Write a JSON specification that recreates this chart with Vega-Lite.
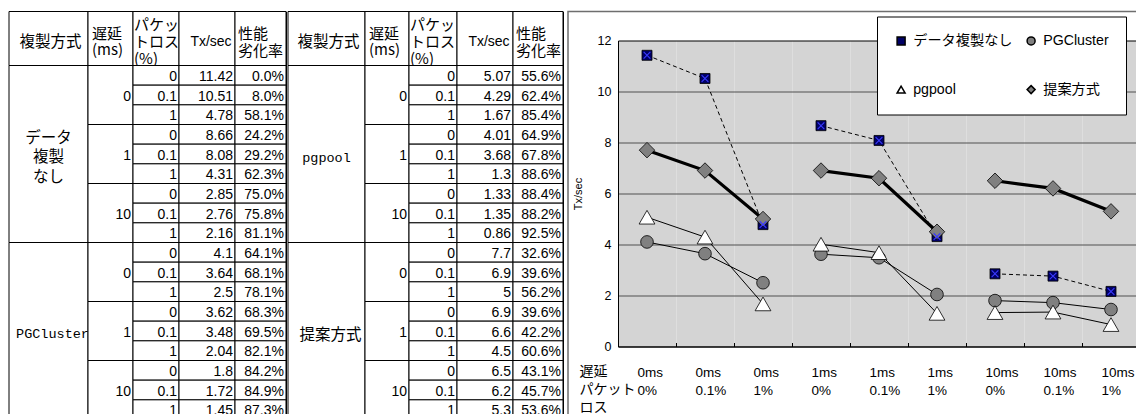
{
 "$schema": "https://vega.github.io/schema/vega-lite/v6.json",
 "padding": {"left": 8, "top": 10.5, "right": 0, "bottom": 0},
 "background": "white",
 "config": {"view": {"stroke": null}, "font": "Liberation Sans", "text": {"color": "black"}},
 "datasets": {
  "tbl": [
   {"method":"データ複製なし","delay":0,"loss":0,"cond":"0ms|0%","tx":11.42,"deg":0.0},
   {"method":"データ複製なし","delay":0,"loss":0.1,"cond":"0ms|0.1%","tx":10.51,"deg":0.080},
   {"method":"データ複製なし","delay":0,"loss":1,"cond":"0ms|1%","tx":4.78,"deg":0.581},
   {"method":"データ複製なし","delay":1,"loss":0,"cond":"1ms|0%","tx":8.66,"deg":0.242},
   {"method":"データ複製なし","delay":1,"loss":0.1,"cond":"1ms|0.1%","tx":8.08,"deg":0.292},
   {"method":"データ複製なし","delay":1,"loss":1,"cond":"1ms|1%","tx":4.31,"deg":0.623},
   {"method":"データ複製なし","delay":10,"loss":0,"cond":"10ms|0%","tx":2.85,"deg":0.750},
   {"method":"データ複製なし","delay":10,"loss":0.1,"cond":"10ms|0.1%","tx":2.76,"deg":0.758},
   {"method":"データ複製なし","delay":10,"loss":1,"cond":"10ms|1%","tx":2.16,"deg":0.811},
   {"method":"PGCluster","delay":0,"loss":0,"cond":"0ms|0%","tx":4.1,"deg":0.641},
   {"method":"PGCluster","delay":0,"loss":0.1,"cond":"0ms|0.1%","tx":3.64,"deg":0.681},
   {"method":"PGCluster","delay":0,"loss":1,"cond":"0ms|1%","tx":2.5,"deg":0.781},
   {"method":"PGCluster","delay":1,"loss":0,"cond":"1ms|0%","tx":3.62,"deg":0.683},
   {"method":"PGCluster","delay":1,"loss":0.1,"cond":"1ms|0.1%","tx":3.48,"deg":0.695},
   {"method":"PGCluster","delay":1,"loss":1,"cond":"1ms|1%","tx":2.04,"deg":0.821},
   {"method":"PGCluster","delay":10,"loss":0,"cond":"10ms|0%","tx":1.8,"deg":0.842},
   {"method":"PGCluster","delay":10,"loss":0.1,"cond":"10ms|0.1%","tx":1.72,"deg":0.849},
   {"method":"PGCluster","delay":10,"loss":1,"cond":"10ms|1%","tx":1.45,"deg":0.873},
   {"method":"pgpool","delay":0,"loss":0,"cond":"0ms|0%","tx":5.07,"deg":0.556},
   {"method":"pgpool","delay":0,"loss":0.1,"cond":"0ms|0.1%","tx":4.29,"deg":0.624},
   {"method":"pgpool","delay":0,"loss":1,"cond":"0ms|1%","tx":1.67,"deg":0.854},
   {"method":"pgpool","delay":1,"loss":0,"cond":"1ms|0%","tx":4.01,"deg":0.649},
   {"method":"pgpool","delay":1,"loss":0.1,"cond":"1ms|0.1%","tx":3.68,"deg":0.678},
   {"method":"pgpool","delay":1,"loss":1,"cond":"1ms|1%","tx":1.3,"deg":0.886},
   {"method":"pgpool","delay":10,"loss":0,"cond":"10ms|0%","tx":1.33,"deg":0.884},
   {"method":"pgpool","delay":10,"loss":0.1,"cond":"10ms|0.1%","tx":1.35,"deg":0.882},
   {"method":"pgpool","delay":10,"loss":1,"cond":"10ms|1%","tx":0.86,"deg":0.925},
   {"method":"提案方式","delay":0,"loss":0,"cond":"0ms|0%","tx":7.7,"deg":0.326},
   {"method":"提案方式","delay":0,"loss":0.1,"cond":"0ms|0.1%","tx":6.9,"deg":0.396},
   {"method":"提案方式","delay":0,"loss":1,"cond":"0ms|1%","tx":5,"deg":0.562},
   {"method":"提案方式","delay":1,"loss":0,"cond":"1ms|0%","tx":6.9,"deg":0.396},
   {"method":"提案方式","delay":1,"loss":0.1,"cond":"1ms|0.1%","tx":6.6,"deg":0.422},
   {"method":"提案方式","delay":1,"loss":1,"cond":"1ms|1%","tx":4.5,"deg":0.606},
   {"method":"提案方式","delay":10,"loss":0,"cond":"10ms|0%","tx":6.5,"deg":0.431},
   {"method":"提案方式","delay":10,"loss":0.1,"cond":"10ms|0.1%","tx":6.2,"deg":0.457},
   {"method":"提案方式","delay":10,"loss":1,"cond":"10ms|1%","tx":5.3,"deg":0.536}
  ],
  "methods": [
   {"method":"データ複製なし","label":["データ","複製","なし"]},
   {"method":"PGCluster","label":"PGCluster"},
   {"method":"pgpool","label":"pgpool"},
   {"method":"提案方式","label":"提案方式"}
  ]
 },
 "hconcat": [
  {"width": 79, "height": 408, "view": {"stroke": "black"}, "resolve": {"scale": {"y": "independent"}},
   "layer": [
    {"data": {"values": [{"part": "h", "h": "複製方式"}]},
     "encoding": {"y": {"field": "part", "type": "nominal", "scale": {"type": "band", "range": [0, 54], "paddingInner": 0, "paddingOuter": 0}, "axis": null}},
     "layer": [
      {"mark": {"type": "rect", "fill": "white", "stroke": "black", "strokeWidth": 1}},
      {"mark": {"type": "text", "font": "Noto Sans CJK JP", "fontSize": 15.5, "dx": 2, "dy": 3}, "encoding": {"text": {"field": "h", "type": "nominal"}}}
     ]},
    {"data": {"name": "methods"}, "transform": [{"filter": {"field": "method", "oneOf": ["データ複製なし","PGCluster"]}}],
     "encoding": {"y": {"field": "method", "type": "nominal", "scale": {"type": "band", "domain": ["データ複製なし","PGCluster"], "range": [54, 408], "paddingInner": 0, "paddingOuter": 0}, "axis": null}},
     "layer": [
      {"mark": {"type": "rect", "fill": "white", "stroke": "black", "strokeWidth": 1}},
      {"transform": [{"filter": {"field": "method", "equal": "データ複製なし"}}], "mark": {"type": "text", "font": "Noto Sans CJK JP", "fontSize": 15.5, "lineHeight": 19.5, "dy": -16.5}, "encoding": {"text": {"field": "label", "type": "nominal"}}},
      {"transform": [{"filter": {"field": "method", "equal": "PGCluster"}}], "mark": {"type": "text", "font": "Liberation Mono", "fontSize": 13.5, "dx": 4, "dy": 3}, "encoding": {"text": {"field": "label", "type": "nominal"}}}
     ]}
   ]},
  {"width": 45, "height": 408, "view": {"stroke": "black"}, "resolve": {"scale": {"y": "independent"}},
   "layer": [
    {"data": {"values": [{"part": "h", "h": ["遅延","(ms)"]}]},
     "encoding": {"y": {"field": "part", "type": "nominal", "scale": {"type": "band", "range": [0, 54], "paddingInner": 0, "paddingOuter": 0}, "axis": null}},
     "layer": [
      {"mark": {"type": "rect", "fill": "white", "stroke": "black", "strokeWidth": 1}},
      {"mark": {"type": "text", "font": "Noto Sans CJK JP", "fontSize": 15, "lineHeight": 16, "align": "left", "dx": -18.5, "dy": -5}, "encoding": {"text": {"field": "h", "type": "nominal"}}}
     ]},
    {"data": {"name": "tbl"}, "transform": [{"filter": {"field": "method", "equal": "データ複製なし"}}, {"aggregate": [{"op": "count", "as": "n"}], "groupby": ["delay"]}],
     "encoding": {"y": {"field": "delay", "type": "ordinal", "scale": {"type": "band", "domain": [0,1,10], "range": [54, 231], "paddingInner": 0, "paddingOuter": 0}, "axis": null}},
     "layer": [
      {"mark": {"type": "rect", "fill": "white", "stroke": "black", "strokeWidth": 1}},
      {"mark": {"type": "text", "align": "right", "dx": -2, "dy": 1.5, "fontSize": 14}, "encoding": {"x": {"value": "width"}, "text": {"field": "delay", "type": "nominal"}}}
     ]},
    {"data": {"name": "tbl"}, "transform": [{"filter": {"field": "method", "equal": "PGCluster"}}, {"aggregate": [{"op": "count", "as": "n"}], "groupby": ["delay"]}],
     "encoding": {"y": {"field": "delay", "type": "ordinal", "scale": {"type": "band", "domain": [0,1,10], "range": [231, 408], "paddingInner": 0, "paddingOuter": 0}, "axis": null}},
     "layer": [
      {"mark": {"type": "rect", "fill": "white", "stroke": "black", "strokeWidth": 1}},
      {"mark": {"type": "text", "align": "right", "dx": -2, "dy": 1.5, "fontSize": 14}, "encoding": {"x": {"value": "width"}, "text": {"field": "delay", "type": "nominal"}}}
     ]}
   ]},
  {"width": 46, "height": 408, "view": {"stroke": "black"}, "resolve": {"scale": {"y": "independent"}},
   "layer": [
    {"data": {"values": [{"part": "h", "h": ["パケッ","トロス","(%)"]}]},
     "encoding": {"y": {"field": "part", "type": "nominal", "scale": {"type": "band", "range": [0, 54], "paddingInner": 0, "paddingOuter": 0}, "axis": null}},
     "layer": [
      {"mark": {"type": "rect", "fill": "white", "stroke": "black", "strokeWidth": 1}},
      {"mark": {"type": "text", "font": "Noto Sans CJK JP", "fontSize": 15, "lineHeight": 17, "align": "left", "dx": -22, "dy": -14, "clip": true}, "encoding": {"text": {"field": "h", "type": "nominal"}}}
     ]},
    {"data": {"name": "tbl"}, "transform": [{"filter": {"field": "method", "equal": "データ複製なし"}}],
     "encoding": {"y": {"field": "cond", "type": "nominal", "scale": {"type": "band", "domain": ["0ms|0%","0ms|0.1%","0ms|1%","1ms|0%","1ms|0.1%","1ms|1%","10ms|0%","10ms|0.1%","10ms|1%"], "range": [54, 231], "paddingInner": 0, "paddingOuter": 0}, "axis": null}},
     "layer": [
      {"mark": {"type": "rect", "fill": "white", "stroke": "black", "strokeWidth": 1}},
      {"mark": {"type": "text", "align": "right", "dx": -2, "dy": 1.5, "fontSize": 14}, "encoding": {"x": {"value": "width"}, "text": {"field": "loss", "type": "nominal"}}}
     ]},
    {"data": {"name": "tbl"}, "transform": [{"filter": {"field": "method", "equal": "PGCluster"}}],
     "encoding": {"y": {"field": "cond", "type": "nominal", "scale": {"type": "band", "domain": ["0ms|0%","0ms|0.1%","0ms|1%","1ms|0%","1ms|0.1%","1ms|1%","10ms|0%","10ms|0.1%","10ms|1%"], "range": [231, 408], "paddingInner": 0, "paddingOuter": 0}, "axis": null}},
     "layer": [
      {"mark": {"type": "rect", "fill": "white", "stroke": "black", "strokeWidth": 1}},
      {"mark": {"type": "text", "align": "right", "dx": -2, "dy": 1.5, "fontSize": 14}, "encoding": {"x": {"value": "width"}, "text": {"field": "loss", "type": "nominal"}}}
     ]}
   ]},
  {"width": 56, "height": 408, "view": {"stroke": "black"}, "resolve": {"scale": {"y": "independent"}},
   "layer": [
    {"data": {"values": [{"part": "h", "h": "Tx/sec"}]},
     "encoding": {"y": {"field": "part", "type": "nominal", "scale": {"type": "band", "range": [0, 54], "paddingInner": 0, "paddingOuter": 0}, "axis": null}},
     "layer": [
      {"mark": {"type": "rect", "fill": "white", "stroke": "black", "strokeWidth": 1}},
      {"mark": {"type": "text", "fontSize": 14, "dx": 4, "dy": 3}, "encoding": {"text": {"field": "h", "type": "nominal"}}}
     ]},
    {"data": {"name": "tbl"}, "transform": [{"filter": {"field": "method", "equal": "データ複製なし"}}],
     "encoding": {"y": {"field": "cond", "type": "nominal", "scale": {"type": "band", "domain": ["0ms|0%","0ms|0.1%","0ms|1%","1ms|0%","1ms|0.1%","1ms|1%","10ms|0%","10ms|0.1%","10ms|1%"], "range": [54, 231], "paddingInner": 0, "paddingOuter": 0}, "axis": null}},
     "layer": [
      {"mark": {"type": "rect", "fill": "white", "stroke": "black", "strokeWidth": 1}},
      {"mark": {"type": "text", "align": "right", "dx": -2, "dy": 1.5, "fontSize": 14}, "encoding": {"x": {"value": "width"}, "text": {"field": "tx", "type": "nominal"}}}
     ]},
    {"data": {"name": "tbl"}, "transform": [{"filter": {"field": "method", "equal": "PGCluster"}}],
     "encoding": {"y": {"field": "cond", "type": "nominal", "scale": {"type": "band", "domain": ["0ms|0%","0ms|0.1%","0ms|1%","1ms|0%","1ms|0.1%","1ms|1%","10ms|0%","10ms|0.1%","10ms|1%"], "range": [231, 408], "paddingInner": 0, "paddingOuter": 0}, "axis": null}},
     "layer": [
      {"mark": {"type": "rect", "fill": "white", "stroke": "black", "strokeWidth": 1}},
      {"mark": {"type": "text", "align": "right", "dx": -2, "dy": 1.5, "fontSize": 14}, "encoding": {"x": {"value": "width"}, "text": {"field": "tx", "type": "nominal"}}}
     ]}
   ]},
  {"width": 51, "height": 408, "view": {"stroke": "black"}, "resolve": {"scale": {"y": "independent"}},
   "layer": [
    {"data": {"values": [{"part": "h", "h": ["性能","劣化率"]}]},
     "encoding": {"y": {"field": "part", "type": "nominal", "scale": {"type": "band", "range": [0, 54], "paddingInner": 0, "paddingOuter": 0}, "axis": null}},
     "layer": [
      {"mark": {"type": "rect", "fill": "white", "stroke": "black", "strokeWidth": 1}},
      {"mark": {"type": "text", "font": "Noto Sans CJK JP", "fontSize": 15, "lineHeight": 17, "align": "left", "dx": -22.5, "dy": -5, "clip": true}, "encoding": {"text": {"field": "h", "type": "nominal"}}}
     ]},
    {"data": {"name": "tbl"}, "transform": [{"filter": {"field": "method", "equal": "データ複製なし"}}],
     "encoding": {"y": {"field": "cond", "type": "nominal", "scale": {"type": "band", "domain": ["0ms|0%","0ms|0.1%","0ms|1%","1ms|0%","1ms|0.1%","1ms|1%","10ms|0%","10ms|0.1%","10ms|1%"], "range": [54, 231], "paddingInner": 0, "paddingOuter": 0}, "axis": null}},
     "layer": [
      {"mark": {"type": "rect", "fill": "white", "stroke": "black", "strokeWidth": 1}},
      {"mark": {"type": "text", "align": "right", "dx": -2, "dy": 1.5, "fontSize": 14}, "encoding": {"x": {"value": "width"}, "text": {"field": "deg", "type": "quantitative", "format": ".1%"}}}
     ]},
    {"data": {"name": "tbl"}, "transform": [{"filter": {"field": "method", "equal": "PGCluster"}}],
     "encoding": {"y": {"field": "cond", "type": "nominal", "scale": {"type": "band", "domain": ["0ms|0%","0ms|0.1%","0ms|1%","1ms|0%","1ms|0.1%","1ms|1%","10ms|0%","10ms|0.1%","10ms|1%"], "range": [231, 408], "paddingInner": 0, "paddingOuter": 0}, "axis": null}},
     "layer": [
      {"mark": {"type": "rect", "fill": "white", "stroke": "black", "strokeWidth": 1}},
      {"mark": {"type": "text", "align": "right", "dx": -2, "dy": 1.5, "fontSize": 14}, "encoding": {"x": {"value": "width"}, "text": {"field": "deg", "type": "quantitative", "format": ".1%"}}}
     ]}
   ]},
  {"width": 2, "height": 10, "data": {"values": [{}]}, "mark": {"type": "point", "opacity": 0}, "encoding": {}},
  {"width": 77, "height": 408, "view": {"stroke": "black"}, "resolve": {"scale": {"y": "independent"}},
   "layer": [
    {"data": {"values": [{"part": "h", "h": "複製方式"}]},
     "encoding": {"y": {"field": "part", "type": "nominal", "scale": {"type": "band", "range": [0, 54], "paddingInner": 0, "paddingOuter": 0}, "axis": null}},
     "layer": [
      {"mark": {"type": "rect", "fill": "white", "stroke": "black", "strokeWidth": 1}},
      {"mark": {"type": "text", "font": "Noto Sans CJK JP", "fontSize": 15.5, "dx": 2, "dy": 3}, "encoding": {"text": {"field": "h", "type": "nominal"}}}
     ]},
    {"data": {"name": "methods"}, "transform": [{"filter": {"field": "method", "oneOf": ["pgpool","提案方式"]}}],
     "encoding": {"y": {"field": "method", "type": "nominal", "scale": {"type": "band", "domain": ["pgpool","提案方式"], "range": [54, 408], "paddingInner": 0, "paddingOuter": 0}, "axis": null}},
     "layer": [
      {"mark": {"type": "rect", "fill": "white", "stroke": "black", "strokeWidth": 1}},
      {"transform": [{"filter": {"field": "method", "equal": "提案方式"}}], "mark": {"type": "text", "font": "Noto Sans CJK JP", "fontSize": 15.5, "dx": 4, "dy": 3.5}, "encoding": {"text": {"field": "label", "type": "nominal"}}},
      {"transform": [{"filter": {"field": "method", "equal": "pgpool"}}], "mark": {"type": "text", "font": "Liberation Mono", "fontSize": 13.5, "dy": 3.5}, "encoding": {"text": {"field": "label", "type": "nominal"}}}
     ]}
   ]},
  {"width": 44, "height": 408, "view": {"stroke": "black"}, "resolve": {"scale": {"y": "independent"}},
   "layer": [
    {"data": {"values": [{"part": "h", "h": ["遅延","(ms)"]}]},
     "encoding": {"y": {"field": "part", "type": "nominal", "scale": {"type": "band", "range": [0, 54], "paddingInner": 0, "paddingOuter": 0}, "axis": null}},
     "layer": [
      {"mark": {"type": "rect", "fill": "white", "stroke": "black", "strokeWidth": 1}},
      {"mark": {"type": "text", "font": "Noto Sans CJK JP", "fontSize": 15, "lineHeight": 16, "align": "left", "dx": -18, "dy": -5}, "encoding": {"text": {"field": "h", "type": "nominal"}}}
     ]},
    {"data": {"name": "tbl"}, "transform": [{"filter": {"field": "method", "equal": "pgpool"}}, {"aggregate": [{"op": "count", "as": "n"}], "groupby": ["delay"]}],
     "encoding": {"y": {"field": "delay", "type": "ordinal", "scale": {"type": "band", "domain": [0,1,10], "range": [54, 231], "paddingInner": 0, "paddingOuter": 0}, "axis": null}},
     "layer": [
      {"mark": {"type": "rect", "fill": "white", "stroke": "black", "strokeWidth": 1}},
      {"mark": {"type": "text", "align": "right", "dx": -2, "dy": 1.5, "fontSize": 14}, "encoding": {"x": {"value": "width"}, "text": {"field": "delay", "type": "nominal"}}}
     ]},
    {"data": {"name": "tbl"}, "transform": [{"filter": {"field": "method", "equal": "提案方式"}}, {"aggregate": [{"op": "count", "as": "n"}], "groupby": ["delay"]}],
     "encoding": {"y": {"field": "delay", "type": "ordinal", "scale": {"type": "band", "domain": [0,1,10], "range": [231, 408], "paddingInner": 0, "paddingOuter": 0}, "axis": null}},
     "layer": [
      {"mark": {"type": "rect", "fill": "white", "stroke": "black", "strokeWidth": 1}},
      {"mark": {"type": "text", "align": "right", "dx": -2, "dy": 1.5, "fontSize": 14}, "encoding": {"x": {"value": "width"}, "text": {"field": "delay", "type": "nominal"}}}
     ]}
   ]},
  {"width": 48, "height": 408, "view": {"stroke": "black"}, "resolve": {"scale": {"y": "independent"}},
   "layer": [
    {"data": {"values": [{"part": "h", "h": ["パケッ","トロス","(%)"]}]},
     "encoding": {"y": {"field": "part", "type": "nominal", "scale": {"type": "band", "range": [0, 54], "paddingInner": 0, "paddingOuter": 0}, "axis": null}},
     "layer": [
      {"mark": {"type": "rect", "fill": "white", "stroke": "black", "strokeWidth": 1}},
      {"mark": {"type": "text", "font": "Noto Sans CJK JP", "fontSize": 15, "lineHeight": 17, "align": "left", "dx": -23, "dy": -14, "clip": true}, "encoding": {"text": {"field": "h", "type": "nominal"}}}
     ]},
    {"data": {"name": "tbl"}, "transform": [{"filter": {"field": "method", "equal": "pgpool"}}],
     "encoding": {"y": {"field": "cond", "type": "nominal", "scale": {"type": "band", "domain": ["0ms|0%","0ms|0.1%","0ms|1%","1ms|0%","1ms|0.1%","1ms|1%","10ms|0%","10ms|0.1%","10ms|1%"], "range": [54, 231], "paddingInner": 0, "paddingOuter": 0}, "axis": null}},
     "layer": [
      {"mark": {"type": "rect", "fill": "white", "stroke": "black", "strokeWidth": 1}},
      {"mark": {"type": "text", "align": "right", "dx": -2, "dy": 1.5, "fontSize": 14}, "encoding": {"x": {"value": "width"}, "text": {"field": "loss", "type": "nominal"}}}
     ]},
    {"data": {"name": "tbl"}, "transform": [{"filter": {"field": "method", "equal": "提案方式"}}],
     "encoding": {"y": {"field": "cond", "type": "nominal", "scale": {"type": "band", "domain": ["0ms|0%","0ms|0.1%","0ms|1%","1ms|0%","1ms|0.1%","1ms|1%","10ms|0%","10ms|0.1%","10ms|1%"], "range": [231, 408], "paddingInner": 0, "paddingOuter": 0}, "axis": null}},
     "layer": [
      {"mark": {"type": "rect", "fill": "white", "stroke": "black", "strokeWidth": 1}},
      {"mark": {"type": "text", "align": "right", "dx": -2, "dy": 1.5, "fontSize": 14}, "encoding": {"x": {"value": "width"}, "text": {"field": "loss", "type": "nominal"}}}
     ]}
   ]},
  {"width": 56, "height": 408, "view": {"stroke": "black"}, "resolve": {"scale": {"y": "independent"}},
   "layer": [
    {"data": {"values": [{"part": "h", "h": "Tx/sec"}]},
     "encoding": {"y": {"field": "part", "type": "nominal", "scale": {"type": "band", "range": [0, 54], "paddingInner": 0, "paddingOuter": 0}, "axis": null}},
     "layer": [
      {"mark": {"type": "rect", "fill": "white", "stroke": "black", "strokeWidth": 1}},
      {"mark": {"type": "text", "fontSize": 14, "dx": 4, "dy": 3}, "encoding": {"text": {"field": "h", "type": "nominal"}}}
     ]},
    {"data": {"name": "tbl"}, "transform": [{"filter": {"field": "method", "equal": "pgpool"}}],
     "encoding": {"y": {"field": "cond", "type": "nominal", "scale": {"type": "band", "domain": ["0ms|0%","0ms|0.1%","0ms|1%","1ms|0%","1ms|0.1%","1ms|1%","10ms|0%","10ms|0.1%","10ms|1%"], "range": [54, 231], "paddingInner": 0, "paddingOuter": 0}, "axis": null}},
     "layer": [
      {"mark": {"type": "rect", "fill": "white", "stroke": "black", "strokeWidth": 1}},
      {"mark": {"type": "text", "align": "right", "dx": -2, "dy": 1.5, "fontSize": 14}, "encoding": {"x": {"value": "width"}, "text": {"field": "tx", "type": "nominal"}}}
     ]},
    {"data": {"name": "tbl"}, "transform": [{"filter": {"field": "method", "equal": "提案方式"}}],
     "encoding": {"y": {"field": "cond", "type": "nominal", "scale": {"type": "band", "domain": ["0ms|0%","0ms|0.1%","0ms|1%","1ms|0%","1ms|0.1%","1ms|1%","10ms|0%","10ms|0.1%","10ms|1%"], "range": [231, 408], "paddingInner": 0, "paddingOuter": 0}, "axis": null}},
     "layer": [
      {"mark": {"type": "rect", "fill": "white", "stroke": "black", "strokeWidth": 1}},
      {"mark": {"type": "text", "align": "right", "dx": -2, "dy": 1.5, "fontSize": 14}, "encoding": {"x": {"value": "width"}, "text": {"field": "tx", "type": "nominal"}}}
     ]}
   ]},
  {"width": 50, "height": 408, "view": {"stroke": "black"}, "resolve": {"scale": {"y": "independent"}},
   "layer": [
    {"data": {"values": [{"part": "h", "h": ["性能","劣化率"]}]},
     "encoding": {"y": {"field": "part", "type": "nominal", "scale": {"type": "band", "range": [0, 54], "paddingInner": 0, "paddingOuter": 0}, "axis": null}},
     "layer": [
      {"mark": {"type": "rect", "fill": "white", "stroke": "black", "strokeWidth": 1}},
      {"mark": {"type": "text", "font": "Noto Sans CJK JP", "fontSize": 15, "lineHeight": 17, "align": "left", "dx": -22, "dy": -5, "clip": true}, "encoding": {"text": {"field": "h", "type": "nominal"}}}
     ]},
    {"data": {"name": "tbl"}, "transform": [{"filter": {"field": "method", "equal": "pgpool"}}],
     "encoding": {"y": {"field": "cond", "type": "nominal", "scale": {"type": "band", "domain": ["0ms|0%","0ms|0.1%","0ms|1%","1ms|0%","1ms|0.1%","1ms|1%","10ms|0%","10ms|0.1%","10ms|1%"], "range": [54, 231], "paddingInner": 0, "paddingOuter": 0}, "axis": null}},
     "layer": [
      {"mark": {"type": "rect", "fill": "white", "stroke": "black", "strokeWidth": 1}},
      {"mark": {"type": "text", "align": "right", "dx": -2, "dy": 1.5, "fontSize": 14}, "encoding": {"x": {"value": "width"}, "text": {"field": "deg", "type": "quantitative", "format": ".1%"}}}
     ]},
    {"data": {"name": "tbl"}, "transform": [{"filter": {"field": "method", "equal": "提案方式"}}],
     "encoding": {"y": {"field": "cond", "type": "nominal", "scale": {"type": "band", "domain": ["0ms|0%","0ms|0.1%","0ms|1%","1ms|0%","1ms|0.1%","1ms|1%","10ms|0%","10ms|0.1%","10ms|1%"], "range": [231, 408], "paddingInner": 0, "paddingOuter": 0}, "axis": null}},
     "layer": [
      {"mark": {"type": "rect", "fill": "white", "stroke": "black", "strokeWidth": 1}},
      {"mark": {"type": "text", "align": "right", "dx": -2, "dy": 1.5, "fontSize": 14}, "encoding": {"x": {"value": "width"}, "text": {"field": "deg", "type": "quantitative", "format": ".1%"}}}
     ]}
   ]},
  {"width": 5, "height": 10, "data": {"values": [{}]}, "mark": {"type": "point", "opacity": 0}, "encoding": {}},
  {"width": 575, "height": 410,
   "data": {"name": "tbl"},
   "view": {"fill": "white", "stroke": "#6e6e6e", "strokeWidth": 1.5},
   "resolve": {"axis": {"x": "independent"}},
   "encoding": {
    "y": {"field": "tx", "type": "quantitative", "scale": {"domain": [0, 12], "range": [335, 29], "nice": false},
     "axis": {"offset": -50, "values": [0,2,4,6,8,10,12], "title": "Tx/sec", "titleFontSize": 11, "titleFontWeight": "normal", "titleColor": "black", "titlePadding": 14,
      "labelFontSize": 12.5, "labelColor": "black", "labelPadding": 7, "ticks": false, "domainColor": "black", "grid": true,
      "gridColor": {"condition": {"test": "datum.value === 12 || datum.value === 0", "value": "black"}, "value": "#505050"}, "gridWidth": 1.2}}
   },
   "layer": [
    {"transform": [{"filter": {"field": "method", "oneOf": ["PGCluster", "pgpool"]}}], "mark": {"type": "line", "color": "black", "strokeWidth": 1},
     "encoding": {
      "x": {"field": "cond", "type": "nominal", "scale": {"type": "band", "domain": ["0ms|0%","0ms|0.1%","0ms|1%","1ms|0%","1ms|0.1%","1ms|1%","10ms|0%","10ms|0.1%","10ms|1%"], "range": [50, 572], "paddingInner": 0, "paddingOuter": 0},
       "axis": {"orient": "top", "grid": true, "gridColor": "#d4d4d4", "gridWidth": 58, "gridOpacity": 1, "ticks": false, "labels": false, "domain": false, "title": null}},
      "detail": [{"field": "method", "type": "nominal"}, {"field": "delay", "type": "nominal"}], "order": {"field": "loss", "type": "quantitative"}}},
    {"transform": [{"filter": {"field": "method", "equal": "データ複製なし"}}], "mark": {"type": "line", "color": "black", "strokeWidth": 1, "strokeDash": [4, 3]},
     "encoding": {
      "x": {"field": "cond", "type": "nominal", "scale": {"type": "band", "domain": ["0ms|0%","0ms|0.1%","0ms|1%","1ms|0%","1ms|0.1%","1ms|1%","10ms|0%","10ms|0.1%","10ms|1%"], "range": [50, 572], "paddingInner": 0, "paddingOuter": 0},
       "axis": {"orient": "bottom", "offset": -75, "grid": false, "ticks": true, "tickBand": "extent", "tickSize": -4, "tickColor": "black",
        "title": ["遅延","パケット","ロス"], "titleFont": "Noto Sans CJK JP", "titleFontSize": 14, "titleFontWeight": "normal", "titleColor": "black", "titleAlign": "left", "titleBaseline": "top", "titleX": 11, "titleY": 18, "titleLineHeight": 18,
        "labelExpr": "split(datum.label, '|')", "labelAngle": 0, "labelAlign": "left", "labelBaseline": "top", "labelOffset": -10, "labelPadding": 23, "labelLineHeight": 18, "labelFontSize": 13.5, "labelColor": "black", "labelOverlap": false, "labelFlush": false, "labelBound": false,
        "domainColor": "black", "domainWidth": 1}},
      "detail": {"field": "delay", "type": "nominal"}, "order": {"field": "loss", "type": "quantitative"}}},
    {"transform": [{"filter": {"field": "method", "equal": "提案方式"}}], "mark": {"type": "line", "color": "black", "strokeWidth": 3.2},
     "encoding": {"x": {"field": "cond", "type": "nominal", "axis": null}, "detail": {"field": "delay", "type": "nominal"}, "order": {"field": "loss", "type": "quantitative"}}},
    {"transform": [{"filter": {"field": "method", "equal": "データ複製なし"}}], "mark": {"type": "point", "filled": true, "size": 100, "stroke": "black", "strokeWidth": 0.8, "opacity": 1},
     "encoding": {
      "x": {"field": "cond", "type": "nominal", "axis": null},
      "fill": {"field": "method", "type": "nominal", "scale": {"domain": ["データ複製なし","PGCluster","pgpool","提案方式"], "range": ["#000066","#808080","#ffffff","#808080"]},
       "legend": {"title": null, "orient": "none", "legendX": 868, "legendY": 5, "columns": 2, "direction": "horizontal", "fillColor": "white", "strokeColor": "black", "padding": 17, "rowPadding": 34, "columnPadding": 11, "symbolSize": 64, "labelFont": "Liberation Sans, Noto Sans CJK JP", "labelFontSize": 14.2, "labelColor": "black", "labelOffset": 5, "labelLimit": 300,
        "encode": {"symbols": {"update": {"stroke": {"value": "black"}, "strokeWidth": {"value": 1}}}}}},
      "shape": {"field": "method", "type": "nominal", "scale": {"domain": ["データ複製なし","PGCluster","pgpool","提案方式"], "range": ["square","circle","triangle-up","diamond"]},
       "legend": {"title": null, "orient": "none", "legendX": 868, "legendY": 5, "columns": 2, "direction": "horizontal", "fillColor": "white", "strokeColor": "black", "padding": 17, "rowPadding": 34, "columnPadding": 11, "symbolSize": 64, "labelFont": "Liberation Sans, Noto Sans CJK JP", "labelFontSize": 14.2, "labelColor": "black", "labelOffset": 5, "labelLimit": 300,
        "encode": {"symbols": {"update": {"stroke": {"value": "black"}, "strokeWidth": {"value": 1}}}}}}
     }},
    {"transform": [{"filter": {"field": "method", "equal": "PGCluster"}}], "mark": {"type": "point", "filled": true, "size": 160, "stroke": "black", "strokeWidth": 0.8, "opacity": 1},
     "encoding": {"x": {"field": "cond", "type": "nominal", "axis": null}, "fill": {"field": "method", "type": "nominal"}, "shape": {"field": "method", "type": "nominal"}}},
    {"transform": [{"filter": {"field": "method", "equal": "pgpool"}}], "mark": {"type": "point", "filled": true, "size": 250, "stroke": "black", "strokeWidth": 0.8, "opacity": 1},
     "encoding": {"x": {"field": "cond", "type": "nominal", "axis": null}, "fill": {"field": "method", "type": "nominal"}, "shape": {"field": "method", "type": "nominal"}}},
    {"transform": [{"filter": {"field": "method", "equal": "提案方式"}}], "mark": {"type": "point", "filled": true, "size": 240, "stroke": "black", "strokeWidth": 0.8, "opacity": 1},
     "encoding": {"x": {"field": "cond", "type": "nominal", "axis": null}, "fill": {"field": "method", "type": "nominal"}, "shape": {"field": "method", "type": "nominal"}}},
    {"transform": [{"filter": {"field": "method", "equal": "データ複製なし"}}], "mark": {"type": "point", "shape": "M-1,-1L1,1M-1,1L1,-1", "size": 45, "filled": false, "stroke": "#3a3aff", "strokeWidth": 1.1, "opacity": 1},
     "encoding": {"x": {"field": "cond", "type": "nominal", "axis": null}}}
   ]}
 ],
 "spacing": 0,
 "bounds": "flush"
}
